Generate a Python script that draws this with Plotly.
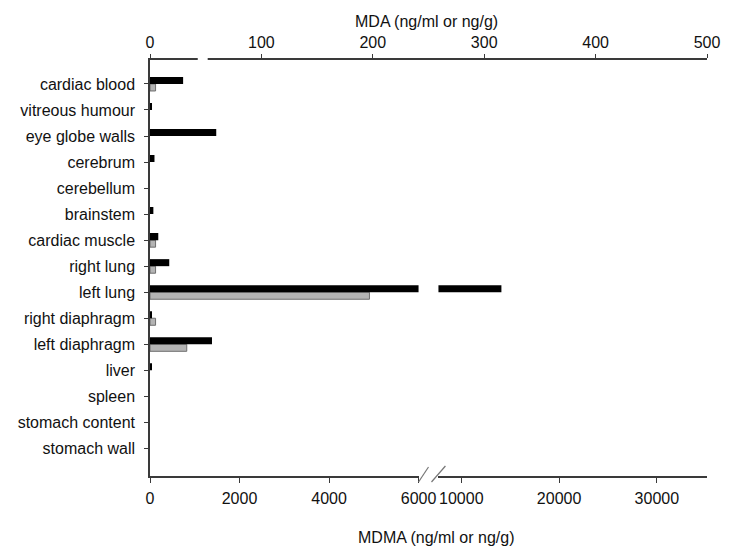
import plotly.graph_objects as go

categories = ["cardiac blood", "vitreous humour", "eye globe walls", "cerebrum",
              "cerebellum", "brainstem", "cardiac muscle", "right lung", "left lung",
              "right diaphragm", "left diaphragm", "liver", "spleen",
              "stomach content", "stomach wall"]
mdma = [740, 45, 1480, 100, 0, 75, 185, 430, 14100, 35, 1385, 40, 0, 0, 0]
mda = [5, 0, 0, 0, 0, 0, 5, 5, 197, 5, 33, 0, 0, 0, 0]

mda_ticks = [0, 100, 200, 300, 400, 500]
mdma_ticks_low = [0, 2000, 4000, 6000]
mdma_ticks_high = [10000, 20000, 30000]

def nz(v):
    return [x if x else None for x in v]

FONT = "Liberation Sans, Arial, sans-serif"
AX = "#3a3a3a"
TXT = "#111"
L, R, T, B = 150, 27, 60, 77
W, H = 737, 553
pw = W - L - R
ph = H - T - B

def px(xp):
    return (xp - L) / pw

def py(yp):
    return (H - B - yp) / ph

fig = go.Figure()
bw = 0.27
fig.add_trace(go.Bar(x=nz(mda), y=categories, orientation="h", xaxis="x", yaxis="y",
                     width=bw, offset=0, marker=dict(color="#b4b4b4", line=dict(color="#6e6e6e", width=1)),
                     showlegend=False))
fig.add_trace(go.Bar(x=nz(mdma), y=categories, orientation="h", xaxis="x2", yaxis="y",
                     width=bw, offset=-bw, marker=dict(color="#000000", line=dict(width=0)),
                     showlegend=False))
fig.add_trace(go.Bar(x=nz(mdma), y=categories, orientation="h", xaxis="x3", yaxis="y",
                     width=bw, offset=-bw, marker=dict(color="#000000", line=dict(width=0)),
                     showlegend=False))

FS = 16
tickfont = dict(family=FONT, size=FS, color=TXT)
lo_end = px(420)
hi_start = px(440)
# high segment: 10000 at px 463, 10000 units per 98.3 px
k = 10000 / 98.3
hi_range = [10000 - (463 - 440) * k, 10000 + (L + pw - 463) * k]

fig.update_layout(
    width=W, height=H,
    margin=dict(l=L, r=R, t=T, b=B),
    paper_bgcolor="white", plot_bgcolor="rgba(0,0,0,0)",
    barmode="overlay",
    font=dict(family=FONT, size=FS, color=TXT),
    xaxis=dict(domain=[0, 1], range=[0, 500], side="top", anchor="y",
               tickvals=mda_ticks, ticktext=[str(v) for v in mda_ticks],
               ticks="outside", ticklen=4, tickcolor=AX,
               showline=True, linecolor=AX, linewidth=1.5, showgrid=False, zeroline=False,
               tickfont=tickfont),
    xaxis2=dict(domain=[0, lo_end], range=[0, 6000], side="bottom", anchor="y",
                tickvals=mdma_ticks_low, ticktext=[str(v) for v in mdma_ticks_low],
                ticks="outside", ticklen=5, tickcolor=AX,
                showline=True, linecolor=AX, linewidth=1.5, showgrid=False, zeroline=False,
                tickfont=tickfont, ticklabelstandoff=2),
    xaxis3=dict(domain=[hi_start, 1], range=hi_range, side="bottom", anchor="y",
                tickvals=mdma_ticks_high, ticktext=[str(v) for v in mdma_ticks_high],
                ticks="outside", ticklen=5, tickcolor=AX,
                showline=True, linecolor=AX, linewidth=1.5, showgrid=False, zeroline=False,
                tickfont=tickfont, ticklabelstandoff=2),
    yaxis=dict(domain=[0, 1], range=[15.06, -0.92], anchor="x", type="category",
               categoryorder="array", categoryarray=categories,
               ticks="outside", ticklen=4, tickcolor=AX, showline=True, linecolor=AX,
               linewidth=1.5, showgrid=False, zeroline=False, tickfont=tickfont,
               ticklabelstandoff=6),
    annotations=[
        dict(text="MDA (ng/ml or ng/g)", xref="paper", yref="paper", x=0.497, y=py(21),
             showarrow=False, xanchor="center", yanchor="middle", font=dict(size=FS, family=FONT, color=TXT)),
        dict(text="MDMA (ng/ml or ng/g)", xref="paper", yref="paper", x=px(438), y=py(537),
             showarrow=False, xanchor="center", yanchor="middle", font=dict(size=FS, family=FONT, color=TXT)),
    ],
    shapes=[
        dict(type="line", xref="paper", yref="paper", x0=px(420), y0=py(482), x1=px(430), y1=py(467),
             line=dict(color="#777", width=1.2), layer="above"),
        dict(type="line", xref="paper", yref="paper", x0=px(433), y0=py(482), x1=px(447), y1=py(466),
             line=dict(color="#777", width=1.2), layer="above"),
        dict(type="line", xref="paper", yref="paper", x0=px(198), y0=1, x1=px(208), y1=1,
             line=dict(color="white", width=4), layer="above"),
    ],
)

fig.write_html("out.html")
